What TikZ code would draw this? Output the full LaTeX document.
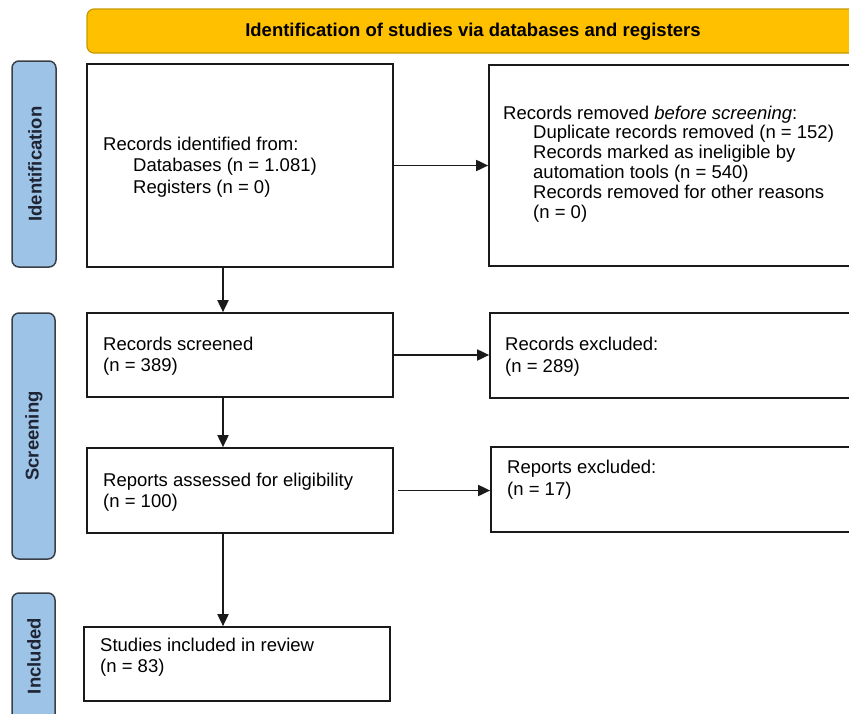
\documentclass[tikz,border=0pt]{standalone}
\usepackage{fontspec}
\setmainfont{Liberation Sans}
\usetikzlibrary{arrows.meta}
\definecolor{bannerfill}{HTML}{FFC000}
\definecolor{bannerline}{HTML}{C49A00}
\definecolor{tabfill}{HTML}{9DC3E6}
\definecolor{tabline}{HTML}{3A3F47}
\definecolor{tabtext}{HTML}{1E2433}
\definecolor{boxline}{HTML}{1A1A1A}
\begin{document}
\begin{tikzpicture}[x=1pt,y=-1pt,
  every node/.style={font=\fontsize{18.5}{21}\selectfont},
  box/.style={draw=boxline, line width=1.7pt, fill=white, rectangle, inner sep=0pt},
  tab/.style={draw=tabline, line width=1.5pt, fill=tabfill, rounded corners=7pt},
  tabtxt/.style={rotate=90, text=tabtext, font=\fontsize{18.5}{21}\selectfont\bfseries, inner sep=0pt},
  line/.style={anchor=base west, inner sep=0pt, text=black},
  arr/.style={draw=boxline, line width=1.8pt, -{Triangle[length=12pt,width=11pt]}}
]
\useasboundingbox (0,0) rectangle (849,713);
\clip (0,0) rectangle (849,713);
\fill[white] (0,0) rectangle (849,713);

% banner
\draw[fill=bannerfill, draw=bannerline, line width=1.2pt, rounded corners=7pt] (87,9) rectangle (880,53);
\node[anchor=base, inner sep=0pt, font=\fontsize{18.5}{21}\selectfont\bfseries] (bannertxt) at (473,36) {Identification of studies via databases and registers};

% side tabs
\draw[tab] (12,61) rectangle (56,267);
\node[tabtxt] (tabid) at (35,164) {Identification};
\draw[tab] (12,313) rectangle (55,559);
\node[tabtxt] (tabsc) at (34,436) {Screening};
\draw[tab] (12,593) rectangle (55,722);
\node[tabtxt] (tabin) at (34,656) {Included};

% boxes
\node[box, minimum width=306pt, minimum height=203pt] (b1) at (240,165.5) {};
\node[box, minimum width=380pt, minimum height=201pt] (b2) at (679,165.5) {};
\node[box, minimum width=306pt, minimum height=84pt] (b3) at (240,355) {};
\node[box, minimum width=380pt, minimum height=85pt] (b4) at (680,355.5) {};
\node[box, minimum width=306pt, minimum height=85pt] (b5) at (240,490.5) {};
\node[box, minimum width=380pt, minimum height=85pt] (b6) at (681,489.5) {};
\node[box, minimum width=306pt, minimum height=74pt] (b7) at (237,664) {};

% texts
\node[line] (t11) at (103,150) {Records identified from:};
\node[line] (t12) at (133,171.5) {Databases (n = 1.081)};
\node[line] (t13) at (133,193) {Registers (n = 0)};

\node[line] (t21) at (503,119) {Records removed \textit{before screening}:};
\node[line] (t22) at (533,138.5) {Duplicate records removed (n = 152)};
\node[line] (t23) at (533,158) {Records marked as ineligible by};
\node[line] (t24) at (533,178) {automation tools (n = 540)};
\node[line] (t25) at (533,198) {Records removed for other reasons};
\node[line] (t26) at (533,218) {(n = 0)};

\node[line] (t31) at (103,350) {Records screened};
\node[line] (t32) at (103,371) {(n = 389)};

\node[line] (t41) at (505,350) {Records excluded:};
\node[line] (t42) at (505,372) {(n = 289)};

\node[line] (t51) at (103,486) {Reports assessed for eligibility};
\node[line] (t52) at (103,507) {(n = 100)};

\node[line] (t61) at (507,473) {Reports excluded:};
\node[line] (t62) at (507,495) {(n = 17)};

\node[line] (t71) at (100,651) {Studies included in review};
\node[line] (t72) at (100,672) {(n = 83)};

% connectors
\coordinate (col) at (223,0);
\draw[arr] (b1.east) -- (b1.east -| b2.west);
\draw[arr] (b3.east) -- (b3.east -| b4.west);
\draw[arr] ([xshift=4pt]b5.east) -- (b5.east -| b6.west);
\draw[arr] (b1.south -| col) -- (b3.north -| col);
\draw[arr] (b3.south -| col) -- (b5.north -| col);
\draw[arr] (b5.south -| col) -- (b7.north -| col);
\end{tikzpicture}
\end{document}
